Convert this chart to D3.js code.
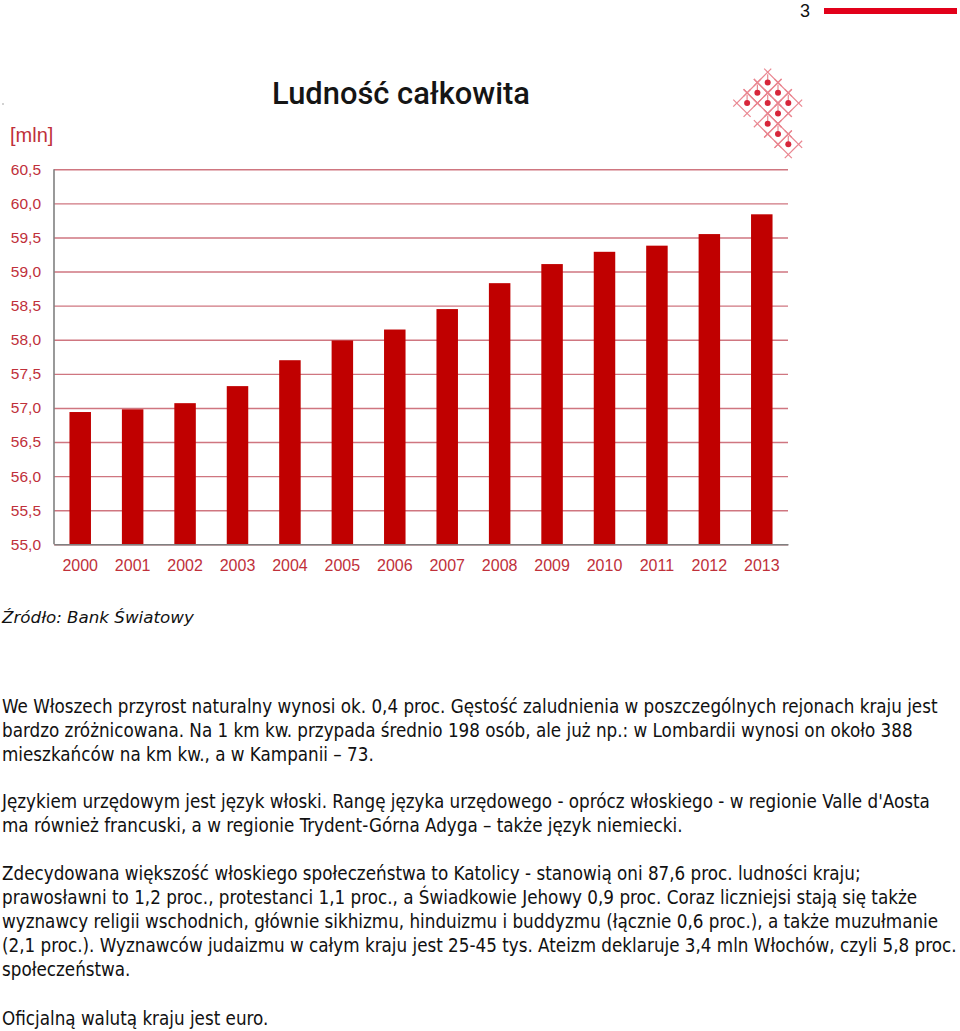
<!DOCTYPE html>
<html><head><meta charset="utf-8">
<script src="https://cdn.jsdelivr.net/npm/d3@7"></script>
<style>body{margin:0;background:#fff;overflow:hidden} svg{display:block}</style>
</head><body>
<svg id="c" width="960" height="1031"></svg>
<script>
// ---- data ----
const years = ["2000","2001","2002","2003","2004","2005","2006","2007","2008","2009","2010","2011","2012","2013"];
const population = [56.94,56.98,57.07,57.32,57.70,57.99,58.15,58.45,58.83,59.11,59.29,59.38,59.55,59.84];
const yTicks = [55.0,55.5,56.0,56.5,57.0,57.5,58.0,58.5,59.0,59.5,60.0,60.5];
const pageNumber = "3";
const chartTitle = "Ludność całkowita";
const unitLabel = "[mln]";
const sourceText = "Źródło: Bank Światowy";
const paragraphs = [
  ["We Włoszech przyrost naturalny wynosi ok. 0,4 proc. Gęstość zaludnienia w poszczególnych rejonach kraju jest",
   "bardzo zróżnicowana. Na 1 km kw. przypada średnio 198 osób, ale już np.: w Lombardii wynosi on około 388",
   "mieszkańców na km kw., a w Kampanii – 73."],
  ["Językiem urzędowym jest język włoski. Rangę języka urzędowego - oprócz włoskiego - w regionie Valle d'Aosta",
   "ma również francuski, a w regionie Trydent-Górna Adyga – także język niemiecki."],
  ["Zdecydowana większość włoskiego społeczeństwa to Katolicy - stanowią oni 87,6 proc. ludności kraju;",
   "prawosławni to 1,2 proc., protestanci 1,1 proc., a Świadkowie Jehowy 0,9 proc. Coraz liczniejsi stają się także",
   "wyznawcy religii wschodnich, głównie sikhizmu, hinduizmu i buddyzmu (łącznie 0,6 proc.), a także muzułmanie",
   "(2,1 proc.). Wyznawców judaizmu w całym kraju jest 25-45 tys. Ateizm deklaruje 3,4 mln Włochów, czyli 5,8 proc.",
   "społeczeństwa."],
  ["Oficjalną walutą kraju jest euro."]
];

// ---- layout ----
const svg = d3.select("#c");
const plot = {left: 54, right: 788, top: 169.3, bottom: 544.3};
const red = "#c0303a";

// page header
svg.append("text").attr("x", 800).attr("y", 17).text(pageNumber)
  .attr("font-family", "Liberation Sans, Arial, sans-serif").attr("font-size", 18).attr("fill", "#111");
svg.append("rect").attr("x", 824).attr("y", 8).attr("width", 133).attr("height", 6).attr("fill", "#e2001a");
svg.append("circle").attr("cx", 3).attr("cy", 104).attr("r", 0.8).attr("fill", "#999");

// title
const ttl = svg.append("text").attr("x", 401).attr("y", 104).attr("text-anchor", "middle")
  .attr("font-family", "Roboto, Liberation Sans, sans-serif").attr("font-weight", 500)
  .attr("font-size", 30).attr("fill", "#151515").text(chartTitle);
{
  const w = ttl.node().getComputedTextLength();
  ttl.attr("font-size", 30 * 258 / w);
}

// logo ornament
(function(){
  const g = svg.append("g");
  const u = 10.3, ox = 767.7, oy = 82.5, e = 5;
  const cells = [[0,0],[-1,1],[1,1],[-2,2],[0,2],[2,2],[1,3],[0,4],[1,5],[2,6]];
  const lc = "#e98690";
  cells.forEach(([a,b]) => {
    const cx = ox + a*u, cy = oy + b*u;
    const k = e/Math.SQRT2;
    const edges = [
      [[cx-u,cy],[cx,cy-u]], [[cx,cy-u],[cx+u,cy]],
      [[cx+u,cy],[cx,cy+u]], [[cx,cy+u],[cx-u,cy]]
    ];
    edges.forEach(([p,q]) => {
      const dx = (q[0]-p[0])/u, dy = (q[1]-p[1])/u;
      g.append("line")
        .attr("x1", p[0]-dx*k).attr("y1", p[1]-dy*k)
        .attr("x2", q[0]+dx*k).attr("y2", q[1]+dy*k)
        .attr("stroke", lc).attr("stroke-width", 1.2);
    });
    g.append("line").attr("x1", cx).attr("y1", cy).attr("x2", cx).attr("y2", cy-u+2)
      .attr("stroke", lc).attr("stroke-width", 1.2);
  });
  cells.forEach(([a,b]) => {
    g.append("circle").attr("cx", ox + a*u).attr("cy", oy + b*u).attr("r", 3).attr("fill", "#d7263a");
  });
})();

// unit label
svg.append("text").attr("x", 10).attr("y", 142).text(unitLabel)
  .attr("font-family", "Liberation Sans, Arial, sans-serif").attr("font-size", 20).attr("fill", red);

// scales
const x = d3.scaleBand().domain(years).range([plot.left, plot.right]).paddingInner(0.59).paddingOuter(0.295);
const y = d3.scaleLinear().domain([55, 60.5]).range([plot.bottom, plot.top]);
const fmt = v => d3.format(".1f")(v).replace(".", ",");

// y axis with gridlines
const yAxis = svg.append("g").attr("transform", `translate(${plot.left},0)`)
  .call(d3.axisLeft(y).tickValues(yTicks).tickFormat(fmt)
        .tickSize(-(plot.right - plot.left)).tickPadding(13));
yAxis.select(".domain").remove();
yAxis.selectAll(".tick line").attr("stroke", "#cf7680").attr("stroke-width", 1.4);
yAxis.selectAll(".tick text").attr("fill", red)
  .attr("font-family", "Liberation Sans, Arial, sans-serif").attr("font-size", 15.5);

// bars
svg.append("g").selectAll("rect").data(years).join("rect")
  .attr("x", d => x(d)).attr("width", x.bandwidth())
  .attr("y", (d,i) => y(population[i])).attr("height", (d,i) => y(55) - y(population[i]))
  .attr("fill", "#c00000");

// x axis
const xAxis = svg.append("g").attr("transform", `translate(0,${plot.bottom})`)
  .call(d3.axisBottom(x).tickSize(0).tickPadding(15));
xAxis.select(".domain").attr("stroke", "#808080").attr("stroke-width", 1.6);
xAxis.selectAll(".tick text").attr("fill", red)
  .attr("font-family", "Liberation Sans, Arial, sans-serif").attr("font-size", 16);
svg.append("line").attr("x1", plot.left).attr("x2", plot.left).attr("y1", plot.top).attr("y2", plot.bottom)
  .attr("stroke", "#808080").attr("stroke-width", 1.6);

// source
const src = svg.append("text").attr("x", 2).attr("y", 623).text(sourceText)
  .attr("font-family", "DejaVu Sans, sans-serif").attr("font-style", "italic").attr("font-size", 16).attr("fill", "#111");
{
  const w = src.node().getComputedTextLength();
  src.attr("font-size", 16 * 192 / w);
}

// body text
const baselines = [[713,737,761],[808,832],[880,904,928,952,976],[1025]];
const bodyFont = "DejaVu Sans Condensed, DejaVu Sans, sans-serif";
const probe = svg.append("text").attr("font-family", bodyFont).attr("font-size", 17).text(paragraphs[0][0]);
const bodySize = 17 * 936 / probe.node().getComputedTextLength();
probe.remove();
paragraphs.forEach((p, pi) => {
  p.forEach((line, li) => {
    svg.append("text").attr("x", 2).attr("y", baselines[pi][li])
      .attr("font-family", bodyFont).attr("font-size", bodySize).attr("fill", "#111").text(line);
  });
});
</script>
</body></html>
